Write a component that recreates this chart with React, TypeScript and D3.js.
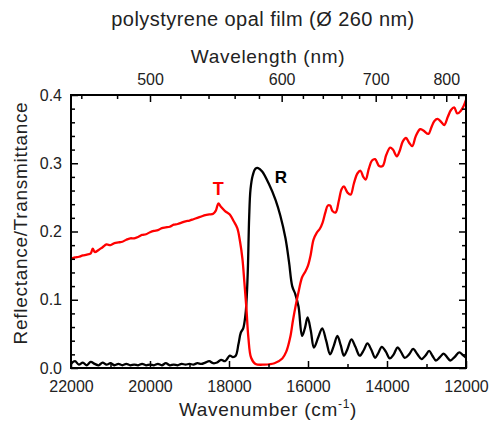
import React, { useEffect, useRef } from 'react';
import * as d3 from 'd3';

// transmittance T: [wavenumber (cm-1), value]
const transmittance: [number, number][] = [
  [22000, 0.160], [21900, 0.162], [21800, 0.163], [21700, 0.165], [21600, 0.166], [21500, 0.168],
  [21450, 0.175], [21400, 0.170], [21300, 0.173], [21200, 0.177], [21100, 0.181], [21000, 0.180],
  [20900, 0.183], [20800, 0.184], [20700, 0.185], [20600, 0.188], [20500, 0.190], [20400, 0.190],
  [20300, 0.192], [20200, 0.195], [20100, 0.196], [20000, 0.199], [19900, 0.201], [19800, 0.202],
  [19700, 0.205], [19600, 0.206], [19500, 0.207], [19400, 0.210], [19300, 0.211], [19200, 0.213],
  [19100, 0.215], [19000, 0.216], [18900, 0.218], [18800, 0.220], [18700, 0.222], [18600, 0.224],
  [18500, 0.225], [18400, 0.226], [18330, 0.231], [18270, 0.241], [18200, 0.236], [18100, 0.230],
  [17980, 0.225], [17880, 0.215], [17790, 0.205], [17720, 0.185], [17660, 0.160], [17610, 0.125],
  [17560, 0.088], [17510, 0.045], [17440, 0.015], [17330, 0.006], [17100, 0.005], [16850, 0.007],
  [16650, 0.014], [16550, 0.024], [16450, 0.045], [16380, 0.070], [16310, 0.092], [16230, 0.114],
  [16150, 0.133], [16070, 0.141], [16000, 0.150], [15935, 0.165], [15860, 0.188], [15780, 0.198],
  [15700, 0.204], [15630, 0.213], [15560, 0.228], [15500, 0.238], [15440, 0.238], [15380, 0.230],
  [15300, 0.228], [15220, 0.245], [15150, 0.262], [15090, 0.266], [15000, 0.257], [14920, 0.254],
  [14840, 0.270], [14750, 0.285], [14670, 0.289], [14600, 0.280], [14540, 0.276], [14460, 0.292],
  [14380, 0.304], [14300, 0.306], [14200, 0.296], [14110, 0.296], [14020, 0.312], [13920, 0.323],
  [13850, 0.320], [13750, 0.310], [13680, 0.318], [13600, 0.332], [13520, 0.337], [13440, 0.330],
  [13360, 0.325], [13270, 0.340], [13160, 0.350], [13080, 0.348], [12950, 0.343], [12880, 0.352],
  [12800, 0.362], [12720, 0.365], [12620, 0.360], [12550, 0.356], [12460, 0.368], [12380, 0.378],
  [12300, 0.382], [12220, 0.373], [12130, 0.377], [12060, 0.384], [12000, 0.393]
];

// reflectance R
const reflectance: [number, number][] = [
  [22000, 0.006], [21900, 0.010], [21800, 0.005], [21700, 0.008], [21600, 0.004], [21500, 0.009],
  [21400, 0.006], [21300, 0.004], [21200, 0.008], [21100, 0.005], [21000, 0.007], [20900, 0.004],
  [20800, 0.006], [20700, 0.004], [20600, 0.006], [20500, 0.004], [20400, 0.005], [20300, 0.004],
  [20200, 0.006], [20100, 0.004], [20000, 0.005], [19900, 0.004], [19800, 0.006], [19700, 0.004],
  [19600, 0.007], [19500, 0.004], [19400, 0.005], [19300, 0.004], [19200, 0.006], [19100, 0.005],
  [19000, 0.006], [18900, 0.005], [18800, 0.007], [18700, 0.006], [18600, 0.008], [18500, 0.010],
  [18400, 0.007], [18300, 0.008], [18200, 0.012], [18100, 0.010], [17980, 0.018], [17900, 0.016],
  [17830, 0.018], [17760, 0.035], [17700, 0.052], [17640, 0.058], [17580, 0.080], [17550, 0.105],
  [17520, 0.150], [17490, 0.220], [17455, 0.262], [17400, 0.282], [17330, 0.292], [17260, 0.293],
  [17160, 0.288], [17000, 0.271], [16820, 0.246], [16700, 0.223], [16570, 0.190], [16480, 0.155],
  [16400, 0.120], [16320, 0.108], [16240, 0.090], [16150, 0.047], [16080, 0.058], [16010, 0.074],
  [15930, 0.055], [15850, 0.030], [15740, 0.045], [15640, 0.058], [15540, 0.040], [15440, 0.020],
  [15350, 0.032], [15256, 0.047], [15170, 0.033], [15090, 0.018], [15000, 0.028], [14900, 0.042],
  [14800, 0.031], [14690, 0.018], [14590, 0.026], [14495, 0.036], [14400, 0.027], [14300, 0.015],
  [14220, 0.022], [14132, 0.031], [14030, 0.024], [13930, 0.014], [13830, 0.020], [13734, 0.030],
  [13640, 0.023], [13550, 0.015], [13440, 0.020], [13338, 0.028], [13230, 0.020], [13125, 0.013],
  [13030, 0.018], [12932, 0.025], [12850, 0.018], [12762, 0.011], [12660, 0.016], [12566, 0.021],
  [12480, 0.016], [12400, 0.011], [12290, 0.016], [12170, 0.023], [12080, 0.019], [12000, 0.015]
];

const wavenumberTicks = [22000, 20000, 18000, 16000, 14000, 12000];
const wavenumberMinor = [21000, 19000, 17000, 15000, 13000];
const yTicks = [0, 0.1, 0.2, 0.3, 0.4];
const yMinor = [0.02, 0.04, 0.06, 0.08, 0.12, 0.14, 0.16, 0.18, 0.22, 0.24, 0.26, 0.28, 0.32, 0.34, 0.36, 0.38];
const wavelengthTicks = [500, 600, 700, 800];
const wavelengthMinor = [460, 480, 520, 540, 560, 580, 620, 640, 660, 680, 720, 740, 760, 780, 820];

const W = 491, H = 427;
const margin = { top: 95, right: 25, bottom: 59, left: 71 };
const font = '"Liberation Sans", Arial, sans-serif';

export default function App() {
  const ref = useRef<SVGSVGElement>(null);

  useEffect(() => {
    const svg = d3.select(ref.current);
    svg.selectAll('*').remove();

    const x = d3.scaleLinear().domain([22000, 12000]).range([margin.left, W - margin.right]);
    const y = d3.scaleLinear().domain([0, 0.4]).range([H - margin.bottom, margin.top]);
    const x0 = margin.left, x1 = W - margin.right, y0 = H - margin.bottom, y1 = margin.top;

    svg.append('defs').append('clipPath').attr('id', 'plot-clip')
      .append('rect').attr('x', x0).attr('y', y1).attr('width', x1 - x0).attr('height', y0 - y1);

    // curves
    const line = d3.line<[number, number]>()
      .x(d => x(d[0]))
      .y(d => y(d[1]))
      .curve(d3.curveCatmullRom.alpha(0.5));

    const plot = svg.append('g').attr('clip-path', 'url(#plot-clip)');
    plot.append('path').attr('d', line(reflectance))
      .attr('fill', 'none').attr('stroke', '#000').attr('stroke-width', 2.3).attr('stroke-linejoin', 'round');
    plot.append('path').attr('d', line(transmittance))
      .attr('fill', 'none').attr('stroke', '#ff0000').attr('stroke-width', 2.3).attr('stroke-linejoin', 'round');

    // axes (ticks pointing inward)
    const styleAxis = (g: any) => {
      g.select('.domain').remove();
      g.selectAll('line').attr('stroke', '#000').attr('stroke-width', 1.5);
      g.selectAll('text').attr('font-family', font).attr('font-size', 16).attr('fill', '#222');
    };

    svg.append('g').attr('transform', `translate(0,${y0})`)
      .call(d3.axisBottom(x).tickValues(wavenumberTicks).tickSize(-7).tickPadding(13).tickFormat(d3.format('d')))
      .call(styleAxis);
    svg.append('g').attr('transform', `translate(0,${y0})`)
      .call(d3.axisBottom(x).tickValues(wavenumberMinor).tickSize(-4).tickFormat(() => ''))
      .call(styleAxis);

    svg.append('g').attr('transform', `translate(${x0},0)`)
      .call(d3.axisLeft(y).tickValues(yTicks).tickSize(-7).tickPadding(9).tickFormat(d3.format('.1f')))
      .call(styleAxis);
    svg.append('g').attr('transform', `translate(${x0},0)`)
      .call(d3.axisLeft(y).tickValues(yMinor).tickSize(-4).tickFormat(() => ''))
      .call(styleAxis);

    svg.append('g').attr('transform', `translate(${x1},0)`)
      .call(d3.axisRight(y).tickValues(yTicks).tickSize(-7).tickFormat(() => ''))
      .call(styleAxis);
    svg.append('g').attr('transform', `translate(${x1},0)`)
      .call(d3.axisRight(y).tickValues(yMinor).tickSize(-4).tickFormat(() => ''))
      .call(styleAxis);

    // top axis: wavelength (nm) = 1e7 / wavenumber
    svg.append('g').attr('transform', `translate(0,${y1})`)
      .call(d3.axisTop(x).tickValues(wavelengthTicks.map(l => 1e7 / l)).tickSize(-7).tickPadding(10)
        .tickFormat(d => String(Math.round(1e7 / (d as number)))))
      .call(styleAxis);
    svg.append('g').attr('transform', `translate(0,${y1})`)
      .call(d3.axisTop(x).tickValues(wavelengthMinor.map(l => 1e7 / l)).tickSize(-4).tickFormat(() => ''))
      .call(styleAxis);

    // frame
    svg.append('rect').attr('x', x0).attr('y', y1).attr('width', x1 - x0).attr('height', y0 - y1)
      .attr('fill', 'none').attr('stroke', '#000').attr('stroke-width', 2);

    // titles
    svg.append('text').attr('x', 263).attr('y', 26).attr('text-anchor', 'middle')
      .attr('font-family', font).attr('font-size', 20).attr('letter-spacing', 0.45).attr('fill', '#222')
      .text('polystyrene opal film (Ø 260 nm)');
    svg.append('text').attr('x', 268).attr('y', 63).attr('text-anchor', 'middle')
      .attr('font-family', font).attr('font-size', 19).attr('letter-spacing', 0.7).attr('fill', '#222')
      .text('Wavelength (nm)');
    const xl = svg.append('text').attr('x', 268).attr('y', 416).attr('text-anchor', 'middle')
      .attr('font-family', font).attr('font-size', 19).attr('letter-spacing', 0.7).attr('fill', '#222');
    xl.append('tspan').text('Wavenumber (cm');
    xl.append('tspan').attr('font-size', 12).attr('dy', -8).text('-1');
    xl.append('tspan').attr('dy', 8).text(')');
    svg.append('text').attr('transform', 'translate(26.5,223) rotate(-90)').attr('text-anchor', 'middle')
      .attr('font-family', font).attr('font-size', 19).attr('letter-spacing', 0.7).attr('fill', '#222')
      .text('Reflectance/Transmittance');

    // curve labels
    svg.append('text').attr('x', x(18270)).attr('y', 195).attr('text-anchor', 'middle')
      .attr('font-family', font).attr('font-size', 18).attr('font-weight', 'bold').attr('fill', '#ff0000')
      .text('T');
    svg.append('text').attr('x', 281).attr('y', 183).attr('text-anchor', 'middle')
      .attr('font-family', font).attr('font-size', 17).attr('font-weight', 'bold').attr('fill', '#000')
      .text('R');
  }, []);

  return (
    <svg ref={ref} width={W} height={H}
      style={{ position: 'absolute', left: 0, top: 0, background: '#fff' }} />
  );
}
